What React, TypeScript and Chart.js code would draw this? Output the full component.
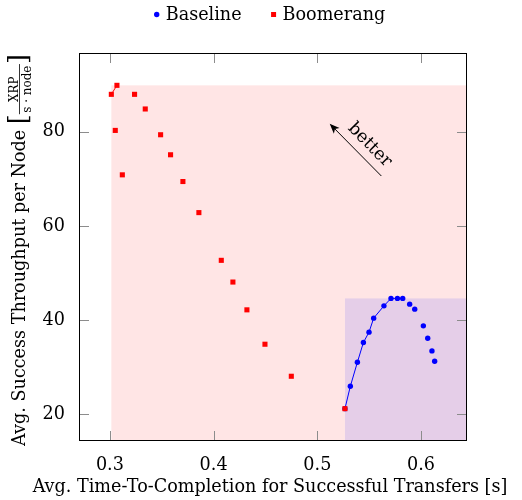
import React, { useEffect, useRef } from "react";
import { Chart, registerables } from "chart.js";

Chart.register(...registerables);

const FONT = "'DejaVu Serif', serif";
const FS = 17.6;

const seriesNames = ["Baseline", "Boomerang"];
const seriesColors = ["rgb(0,0,255)", "rgb(255,0,0)"];
const regionColors = ["rgba(0,0,255,0.1)", "rgba(255,0,0,0.1)"];

const baselineX = [0.5266, 0.5318, 0.5386, 0.5444, 0.5498, 0.5543, 0.5642, 0.571, 0.5772, 0.5823, 0.589, 0.5939, 0.6022, 0.6064, 0.6105, 0.6131];
const baselineY = [21.21, 25.96, 31.06, 35.26, 37.45, 40.43, 43.04, 44.62, 44.62, 44.62, 43.4, 42.34, 38.79, 36.17, 33.47, 31.28];

const boomerangX = [0.3014, 0.3052, 0.3068, 0.312, 0.3238, 0.3341, 0.3489, 0.3585, 0.3704, 0.3858, 0.4074, 0.4186, 0.4321, 0.4495, 0.4749, 0.5266];
const boomerangY = [87.94, 80.28, 89.85, 70.85, 87.94, 84.83, 79.36, 75.11, 69.43, 62.83, 52.7, 48.09, 42.19, 34.89, 28.09, 21.21];

const xTicks = [0.3, 0.4, 0.5, 0.6];
const yTicks = [20, 40, 60, 80];

const xTitle = "Avg. Time-To-Completion for Successful Transfers [s]";
const yTitleMain = "Avg. Success Throughput per Node";
const yUnitNum = "XRP";
const yUnitDen = "s \u00b7 node";

const arrowFrom = [0.5617, 70.6];
const arrowTo = [0.5119, 81.7];
const arrowLabel = "better";
const arrowLabelAt = [0.5504, 77.2];

const ENLARGE = 0.1;

function pts(xs: number[], ys: number[]) {
  return xs.map((x, i) => ({ x, y: ys[i] }));
}

function front(xs: number[], ys: number[]) {
  const p = pts(xs, ys).sort((a, b) => a.x - b.x);
  const out: { x: number; y: number }[] = [];
  let best = -Infinity;
  for (const q of p) {
    if (q.y >= best) {
      out.push(q);
      best = q.y;
    }
  }
  return out;
}

function limits(all: number[]) {
  const mn = Math.min(...all);
  const mx = Math.max(...all);
  const e = (mx - mn) * ENLARGE;
  return [mn - e, mx + e];
}

const [xMin, xMax] = limits([...baselineX, ...boomerangX]);
const [yMin, yMax] = limits([...baselineY, ...boomerangY]);

const regions = [
  { xs: boomerangX, ys: boomerangY, color: regionColors[1] },
  { xs: baselineX, ys: baselineY, color: regionColors[0] },
];

const deco = {
  id: "deco",
  beforeDatasetsDraw(chart: any) {
    const { ctx, chartArea: a, scales } = chart;
    const x = scales.x;
    const y = scales.y;
    ctx.save();
    ctx.beginPath();
    ctx.rect(a.left, a.top, a.right - a.left, a.bottom - a.top);
    ctx.clip();
    for (const r of regions) {
      const px = x.getPixelForValue(Math.min(...r.xs));
      const py = y.getPixelForValue(Math.max(...r.ys));
      ctx.fillStyle = r.color;
      ctx.fillRect(px, py, a.right - px, a.bottom - py);
    }
    ctx.restore();
  },
  afterDraw(chart: any) {
    const { ctx, chartArea: a, scales } = chart;
    const x = scales.x;
    const y = scales.y;
    ctx.save();
    // ticks (inside, mirrored)
    ctx.strokeStyle = "rgb(140,140,140)";
    ctx.lineWidth = 1;
    const TL = 10;
    ctx.beginPath();
    for (const t of x.ticks) {
      const px = Math.round(x.getPixelForValue(t.value)) + 0.5;
      ctx.moveTo(px, a.bottom);
      ctx.lineTo(px, a.bottom - TL);
      ctx.moveTo(px, a.top);
      ctx.lineTo(px, a.top + TL);
    }
    for (const t of y.ticks) {
      const py = Math.round(y.getPixelForValue(t.value)) + 0.5;
      ctx.moveTo(a.left, py);
      ctx.lineTo(a.left + TL, py);
      ctx.moveTo(a.right, py);
      ctx.lineTo(a.right - TL, py);
    }
    ctx.stroke();
    // frame
    ctx.strokeStyle = "#000";
    ctx.lineWidth = 1;
    ctx.strokeRect(a.left + 0.5, a.top + 0.5, a.right - a.left - 1, a.bottom - a.top - 1);

    ctx.fillStyle = "#000";
    // x title
    ctx.font = `${FS}px ${FONT}`;
    ctx.textAlign = "center";
    ctx.textBaseline = "alphabetic";
    ctx.fillText(xTitle, (a.left + a.right) / 2 - 3, 492);

    // y title
    ctx.save();
    ctx.translate(20, 250);
    ctx.rotate(-Math.PI / 2);
    ctx.textAlign = "left";
    ctx.textBaseline = "middle";
    const mainFont = `${FS}px ${FONT}`;
    const brFont = `${FS * 1.45}px ${FONT}`;
    const frFont = `${FS * 0.68}px ${FONT}`;
    ctx.font = mainFont;
    const wMain = ctx.measureText(yTitleMain + " ").width;
    ctx.font = brFont;
    const wBr = ctx.measureText("[").width;
    ctx.font = frFont;
    const wFrac = Math.max(ctx.measureText(yUnitNum).width, ctx.measureText(yUnitDen).width) + 3;
    const total = wMain + wBr + wFrac + wBr;
    let cx = -total / 2;
    ctx.font = mainFont;
    ctx.fillText(yTitleMain, cx, 0);
    cx += wMain;
    ctx.font = brFont;
    ctx.fillText("[", cx, 0);
    cx += wBr;
    ctx.beginPath();
    ctx.lineWidth = 0.8;
    ctx.moveTo(cx, -0.5);
    ctx.lineTo(cx + wFrac, -0.5);
    ctx.stroke();
    ctx.font = frFont;
    ctx.textAlign = "center";
    ctx.textBaseline = "alphabetic";
    ctx.fillText(yUnitNum, cx + wFrac / 2, -2.5);
    ctx.textBaseline = "top";
    ctx.fillText(yUnitDen, cx + wFrac / 2, 1.5);
    cx += wFrac;
    ctx.font = brFont;
    ctx.textAlign = "left";
    ctx.textBaseline = "middle";
    ctx.fillText("]", cx, 0);
    ctx.restore();

    // legend
    ctx.font = `${FS}px ${FONT}`;
    ctx.textAlign = "left";
    ctx.textBaseline = "alphabetic";
    const markToText = 9;
    const textToMark = 32;
    const widths = seriesNames.map((s) => ctx.measureText(s).width);
    const totalW = widths.reduce((s, w) => s + w + markToText, 0) + textToMark;
    let lx = (a.left + a.right) / 2 - totalW / 2 - 2;
    const ly = 14.5;
    seriesNames.forEach((name, i) => {
      ctx.fillStyle = seriesColors[i];
      if (i === 0) {
        ctx.beginPath();
        ctx.arc(lx, ly, 2.7, 0, Math.PI * 2);
        ctx.fill();
      } else {
        ctx.fillRect(lx - 2.5, ly - 2.5, 5, 5);
      }
      lx += markToText;
      ctx.fillStyle = "#000";
      ctx.fillText(name, lx, 19.5);
      lx += widths[i] + textToMark;
    });

    // arrow
    const tx = x.getPixelForValue(arrowFrom[0]);
    const ty = y.getPixelForValue(arrowFrom[1]);
    const hx = x.getPixelForValue(arrowTo[0]);
    const hy = y.getPixelForValue(arrowTo[1]);
    const ang = Math.atan2(hy - ty, hx - tx);
    const HL = 10;
    const HW = 4;
    ctx.strokeStyle = "#000";
    ctx.fillStyle = "#000";
    ctx.lineWidth = 1;
    ctx.beginPath();
    ctx.moveTo(tx, ty);
    ctx.lineTo(hx - Math.cos(ang) * HL * 0.7, hy - Math.sin(ang) * HL * 0.7);
    ctx.stroke();
    ctx.beginPath();
    ctx.moveTo(hx, hy);
    ctx.lineTo(hx - Math.cos(ang) * HL - Math.sin(ang) * HW, hy - Math.sin(ang) * HL + Math.cos(ang) * HW);
    ctx.lineTo(hx - Math.cos(ang) * HL * 0.75, hy - Math.sin(ang) * HL * 0.75);
    ctx.lineTo(hx - Math.cos(ang) * HL + Math.sin(ang) * HW, hy - Math.sin(ang) * HL - Math.cos(ang) * HW);
    ctx.closePath();
    ctx.fill();
    ctx.save();
    ctx.translate(x.getPixelForValue(arrowLabelAt[0]), y.getPixelForValue(arrowLabelAt[1]));
    ctx.rotate(ang + Math.PI);
    ctx.font = `${FS}px ${FONT}`;
    ctx.textAlign = "center";
    ctx.textBaseline = "middle";
    ctx.fillText(arrowLabel, 0, 0);
    ctx.restore();

    ctx.restore();
  },
};

export default function App() {
  const ref = useRef<HTMLCanvasElement | null>(null);
  useEffect(() => {
    if (!ref.current) return;
    const bFront = front(baselineX, baselineY);
    const rFront = front(boomerangX, boomerangY);
    const chart = new Chart(ref.current, {
      type: "scatter",
      data: {
        datasets: [
          {
            label: seriesNames[1],
            data: pts(boomerangX, boomerangY),
            pointStyle: "rect",
            pointRadius: 3.6,
            pointHoverRadius: 3.6,
            backgroundColor: seriesColors[1],
            borderColor: seriesColors[1],
            borderWidth: 0,
            showLine: false,
            order: 0,
          },
          {
            label: seriesNames[1] + " front",
            data: rFront,
            showLine: true,
            pointRadius: 0,
            borderColor: seriesColors[1],
            borderWidth: 1,
            order: 1,
          },
          {
            label: seriesNames[0],
            data: pts(baselineX, baselineY),
            pointStyle: "circle",
            pointRadius: 2.7,
            pointHoverRadius: 2.7,
            backgroundColor: seriesColors[0],
            borderColor: seriesColors[0],
            borderWidth: 0,
            showLine: false,
            order: 2,
          },
          {
            label: seriesNames[0] + " front",
            data: bFront,
            showLine: true,
            pointRadius: 0,
            borderColor: seriesColors[0],
            borderWidth: 1,
            order: 3,
          },
        ] as any,
      },
      options: {
        animation: false,
        responsive: false,
        devicePixelRatio: 1,
        layout: { padding: { top: 53, right: 55, left: 0, bottom: 0 } },
        plugins: { legend: { display: false }, tooltip: { enabled: false } },
        scales: {
          x: {
            type: "linear",
            min: xMin,
            max: xMax,
            grid: { display: false },
            border: { display: false },
            ticks: {
              font: { family: FONT, size: FS },
              color: "#000",
              padding: 6,
              maxRotation: 0,
              autoSkip: false,
              callback: (v: any) => String(v),
            },
            afterBuildTicks: (s: any) => {
              s.ticks = xTicks.map((v) => ({ value: v }));
            },
            afterFit: (s: any) => {
              s.height = 59;
            },
          },
          y: {
            type: "linear",
            min: yMin,
            max: yMax,
            grid: { display: false },
            border: { display: false },
            ticks: {
              font: { family: FONT, size: FS },
              color: "#000",
              padding: 6,
              autoSkip: false,
              callback: (v: any) => String(v),
            },
            afterBuildTicks: (s: any) => {
              s.ticks = yTicks.map((v) => ({ value: v }));
            },
            afterFit: (s: any) => {
              s.width = 79;
            },
          },
        },
      },
      plugins: [deco],
    });
    return () => chart.destroy();
  }, []);
  return (
    <div style={{ position: "absolute", left: 0, top: 0, width: 522, height: 500, background: "#fff" }}>
      <canvas ref={ref} width={522} height={500} style={{ display: "block", width: 522, height: 500 }} />
    </div>
  );
}
